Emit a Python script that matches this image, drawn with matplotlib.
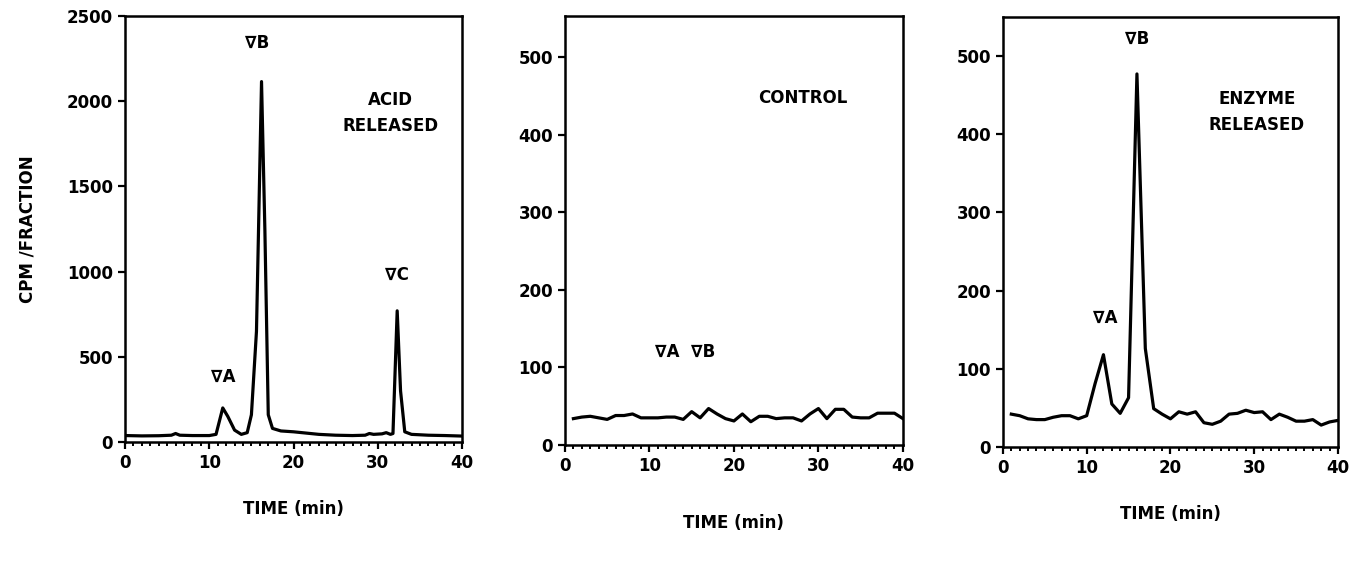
import matplotlib.pyplot as plt
from matplotlib.ticker import MultipleLocator

plt.rcParams['font.family'] = ['DejaVu Sans']
plt.rcParams['font.weight'] = 'bold'

# acid released panel
acid_t = [0, 2, 4, 5.5, 6, 6.5, 8, 10, 10.8, 11.6, 12.2, 13, 13.8, 14.5, 15.0, 15.6, 16.2,
          16.6, 17.0, 17.5, 18.5, 20, 21, 23, 25, 27, 28.5, 29, 29.5, 30.5, 31, 31.5, 31.8,
          32.3, 32.7, 33.2, 34, 36, 38, 40]
acid_v = [38, 36, 37, 40, 50, 40, 38, 38, 45, 200, 150, 70, 45, 55, 160, 650, 2115,
          1240, 160, 80, 65, 60, 55, 45, 40, 38, 40, 50, 45, 48, 55, 45, 50,
          770, 300, 60, 45, 40, 38, 35]

# control panel
ctrl_t = list(range(1, 41))
ctrl_v = [34, 36, 37, 35, 33, 38, 38, 40, 35, 35, 35, 36, 36, 33, 43, 35, 47, 40, 34, 31,
          40, 30, 37, 37, 34, 35, 35, 31, 40, 47, 34, 46, 46, 36, 35, 35, 41, 41, 41, 34]

# enzyme released panel
enz_t = list(range(1, 41))
enz_v = [42, 40, 36, 35, 35, 38, 40, 40, 36, 40, 81, 118, 55, 43, 63, 477, 126, 49, 42, 36,
         45, 42, 45, 31, 29, 33, 42, 43, 47, 44, 45, 35, 42, 38, 33, 33, 35, 28, 32, 34]

fig = plt.figure(figsize=(13.59, 5.82), dpi=100)
ax1 = fig.add_axes([0.092, 0.2405, 0.248, 0.732])
ax2 = fig.add_axes([0.4157, 0.2354, 0.2487, 0.737])
ax3 = fig.add_axes([0.738, 0.232, 0.2465, 0.739])

fs = 12
for ax, t, v, ymax, yt in [(ax1, acid_t, acid_v, 2500, 500),
                           (ax2, ctrl_t, ctrl_v, 553, 100),
                           (ax3, enz_t, enz_v, 550, 100)]:
    ax.plot(t, v, color='black', lw=2.3, solid_joinstyle='round')
    ax.set_xlim(0, 40)
    ax.set_ylim(0, ymax)
    ax.xaxis.set_major_locator(MultipleLocator(10))
    ax.xaxis.set_minor_locator(MultipleLocator(1))
    ax.yaxis.set_major_locator(MultipleLocator(yt))
    ax.tick_params(axis='both', which='major', length=5, width=1.6, labelsize=fs, direction='out')
    ax.tick_params(axis='x', which='minor', length=3, width=1.4, direction='out')
    for s in ax.spines.values():
        s.set_linewidth(1.8)
    for lab in ax.get_xticklabels() + ax.get_yticklabels():
        lab.set_fontweight('bold')

ax1.set_ylabel('CPM /FRACTION', fontsize=fs, fontweight='bold', labelpad=22)
ax1.set_xlabel('TIME (min)', fontsize=fs, fontweight='bold', labelpad=20)
ax2.set_xlabel('TIME (min)', fontsize=fs, fontweight='bold', labelpad=28)
ax3.set_xlabel('TIME (min)', fontsize=fs, fontweight='bold', labelpad=20)

kw = dict(fontsize=fs, fontweight='bold', ha='center', va='center')
ax1.text(15.7, 2342, '∇B', **kw)
ax1.text(11.6, 381, '∇A', **kw)
ax1.text(32.3, 980, '∇C', **kw)
ax1.text(31.5, 1930, 'ACID\nRELEASED', linespacing=1.6, **kw)

ax2.text(28.2, 448, 'CONTROL', **kw)
ax2.text(14.2, 120, '∇A  ∇B', **kw)

ax3.text(16.0, 522, '∇B', **kw)
ax3.text(12.2, 165, '∇A', **kw)
ax3.text(30.3, 428, 'ENZYME\nRELEASED', linespacing=1.6, **kw)

fig.savefig('out.png', dpi=100)
